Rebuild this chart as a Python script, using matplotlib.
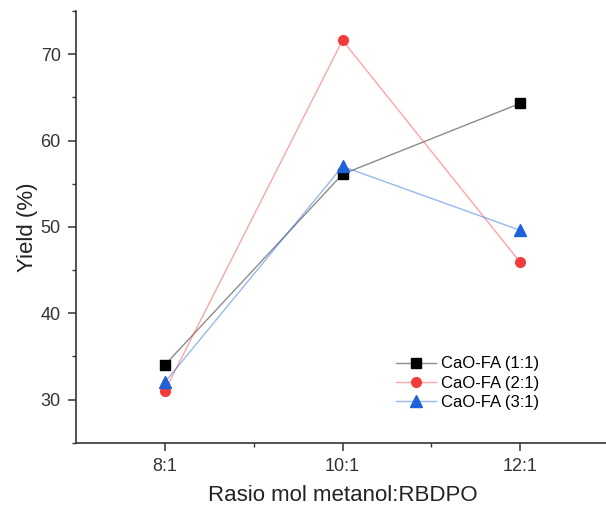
import numpy as np
import matplotlib
matplotlib.use('Agg')
import matplotlib.pyplot as plt
from matplotlib.ticker import MultipleLocator, FixedLocator

plt.rcParams['font.family'] = ['Liberation Sans', 'DejaVu Sans']

ratios = ["8:1", "10:1", "12:1"]
yield_11 = [34.0, 56.1, 64.3]
yield_21 = [31.0, 71.6, 45.9]
yield_31 = [32.0, 57.0, 49.6]

series = [
    ("CaO-FA (1:1)", yield_11, "#000000", "s", 6.5),
    ("CaO-FA (2:1)", yield_21, "#f23c3c", "o", 7),
    ("CaO-FA (3:1)", yield_31, "#1d62d8", "^", 8),
]

fig = plt.figure(figsize=(6.06, 5.08), dpi=100)
ax = fig.add_axes([76 / 606, 1 - 442.7 / 508, 533 / 606, 431.7 / 508])

x = np.arange(len(ratios))
handles, labels = [], []
for name, vals, col, mk, ms in series:
    ln, = ax.plot(x, vals, '-', color=col, alpha=0.45, linewidth=1.0, zorder=2)
    pt, = ax.plot(x, vals, linestyle='none', marker=mk, color=col, markersize=ms, zorder=3)
    handles.append((ln, pt))
    labels.append(name)

ax.set_xlim(-0.5, 2.5)
ax.set_ylim(25, 75)
ax.set_xticks(x)
ax.set_xticklabels(ratios)
ax.xaxis.set_minor_locator(FixedLocator([0.5, 1.5]))
ax.yaxis.set_major_locator(MultipleLocator(10))
ax.yaxis.set_minor_locator(MultipleLocator(5))

for s in ['top', 'right']:
    ax.spines[s].set_visible(False)
for s in ['left', 'bottom']:
    ax.spines[s].set_color('#333333')
    ax.spines[s].set_linewidth(1.2)

ax.tick_params(which='major', direction='out', length=6, width=1.1, color='#333333',
               labelsize=13, labelcolor='#333333', pad=5)
ax.tick_params(which='minor', direction='out', length=3, width=1.0, color='#333333')

ax.set_xlabel("Rasio mol metanol:RBDPO", fontsize=16, color='#222222', labelpad=7)
ax.set_ylabel("Yield (%)", fontsize=16, color='#222222', labelpad=2)

ax.legend(handles, labels, loc='center left', bbox_to_anchor=(0.6, 0.138),
          frameon=False, fontsize=12, handlelength=2.4, handletextpad=0.3,
          labelspacing=0.25, borderpad=0, borderaxespad=0)

fig.savefig("out.png", dpi=100)
plt.close(fig)
